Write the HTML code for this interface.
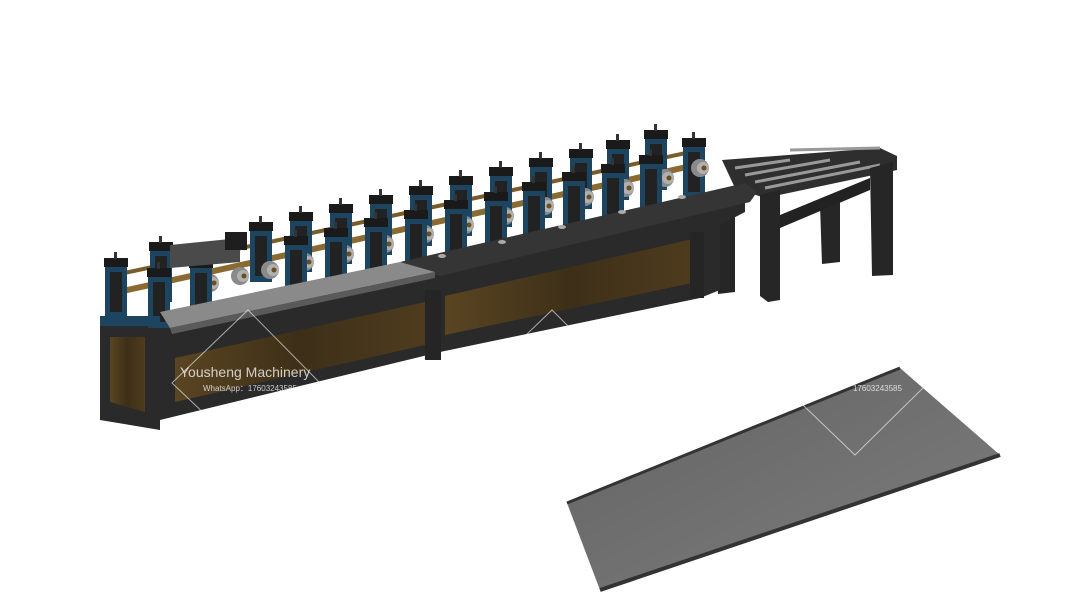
<!DOCTYPE html>
<html><head><style>
html,body{margin:0;padding:0;background:#fff;width:1080px;height:608px;overflow:hidden}
svg{display:block}
.wm{font-family:"Liberation Sans",sans-serif;fill:#fff;opacity:.75}
</style></head><body>
<svg width="1080" height="608" viewBox="0 0 1080 608">
<defs>
<g id="st">
<rect x="0" y="8" width="22" height="52" fill="#1d4560"/>
<rect x="5" y="14" width="12" height="40" fill="#222"/>
<rect x="-1" y="0" width="24" height="9" fill="#1a1a1a"/>
<rect x="9" y="-6" width="3" height="7" fill="#333"/>
</g>
<g id="rl">
<circle cx="0" cy="0" r="9" fill="#8a8a8a"/>
<circle cx="3" cy="0" r="6" fill="#b0b0b0"/>
<circle cx="4" cy="0" r="2.5" fill="#6a5020"/>
</g>
<linearGradient id="br" x1="0" y1="0" x2="1" y2="0">
<stop offset="0" stop-color="#5a4522"/><stop offset=".5" stop-color="#3d2f18"/><stop offset="1" stop-color="#4f3c1e"/>
</linearGradient>
<linearGradient id="sh" x1="0" y1="0" x2="1" y2="1">
<stop offset="0" stop-color="#626262"/><stop offset="1" stop-color="#7e7e7e"/>
</linearGradient>
</defs>

<!-- conveyor -->
<polygon points="722,160 880,148 897,156 897,170 765,198 735,188" fill="#2e2e2e"/>
<g stroke="#999" stroke-width="3">
<line x1="735" y1="168" x2="790" y2="160"/><line x1="745" y1="175" x2="830" y2="160"/>
<line x1="755" y1="182" x2="860" y2="162"/><line x1="765" y1="188" x2="880" y2="165"/>
<line x1="790" y1="150" x2="880" y2="148"/>
</g>
<polygon points="760,195 780,190 780,300 768,302 760,296" fill="#262626"/>
<polygon points="820,205 840,200 840,262 822,264" fill="#262626"/>
<polygon points="870,168 893,162 893,275 872,276" fill="#262626"/>
<polygon points="780,215 870,178 870,190 780,228" fill="#222"/>
<polygon points="715,220 735,216 735,292 718,294" fill="#262626"/>

<!-- base -->
<polygon points="100,320 160,318 745,192 745,212 720,225 720,290 700,298 440,352 160,420 160,430 100,420" fill="#2a2a2a"/>
<polygon points="110,337 145,337 145,412 110,402" fill="url(#br)"/>
<polygon points="175,358 425,302 425,345 175,402" fill="url(#br)"/>
<polygon points="445,296 697,238 697,282 445,335" fill="url(#br)"/>
<rect x="425" y="290" width="16" height="70" fill="#252525"/>
<rect x="690" y="232" width="14" height="66" fill="#252525"/>

<!-- shaft -->
<line x1="118" y1="292" x2="705" y2="163" stroke="#8a6a30" stroke-width="6"/>
<line x1="115" y1="275" x2="700" y2="150" stroke="#7a5c28" stroke-width="4"/>

<!-- back stands -->
<use href="#st" x="150" y="242"/><use href="#st" x="250" y="222"/><use href="#st" x="290" y="212"/>
<use href="#st" x="330" y="204"/><use href="#st" x="370" y="195"/><use href="#st" x="410" y="186"/>
<use href="#st" x="450" y="176"/><use href="#st" x="490" y="167"/><use href="#st" x="530" y="158"/>
<use href="#st" x="570" y="149"/><use href="#st" x="607" y="140"/><use href="#st" x="645" y="130"/>
<use href="#st" x="683" y="138"/>

<!-- rollers -->
<use href="#rl" x="160" y="292"/><use href="#rl" x="210" y="283"/><use href="#rl" x="240" y="276"/>
<use href="#rl" x="270" y="270"/><use href="#rl" x="305" y="262"/><use href="#rl" x="345" y="254"/>
<use href="#rl" x="385" y="244"/><use href="#rl" x="425" y="234"/><use href="#rl" x="465" y="225"/>
<use href="#rl" x="505" y="216"/><use href="#rl" x="545" y="206"/><use href="#rl" x="585" y="197"/>
<use href="#rl" x="625" y="188"/><use href="#rl" x="665" y="178"/><use href="#rl" x="700" y="168"/>

<!-- front stands -->
<use href="#st" x="105" y="258"/><use href="#st" x="148" y="268"/><use href="#st" x="190" y="259"/>
<use href="#st" x="285" y="236"/><use href="#st" x="325" y="228"/><use href="#st" x="365" y="218"/>
<use href="#st" x="405" y="210"/><use href="#st" x="445" y="200"/><use href="#st" x="485" y="192"/>
<use href="#st" x="523" y="182"/><use href="#st" x="563" y="172"/><use href="#st" x="602" y="164"/>
<use href="#st" x="640" y="155"/>
<rect x="100" y="316" width="60" height="10" fill="#1d4560"/>

<!-- guide box -->
<polygon points="170,245 240,238 240,262 170,268" fill="#4a4a4a"/>
<rect x="225" y="232" width="22" height="18" fill="#1e1e1e"/>

<!-- deck -->
<polygon points="400,262 745,183 757,192 750,202 440,276 425,272" fill="#353535"/>
<polygon points="160,312 400,262 435,272 170,328" fill="#8a8a8a"/>
<polygon points="170,328 435,272 435,278 172,334" fill="#5a5a5a"/>
<g fill="#aaa"><ellipse cx="442" cy="256" rx="4" ry="2"/><ellipse cx="502" cy="242" rx="4" ry="2"/><ellipse cx="562" cy="227" rx="4" ry="2"/><ellipse cx="622" cy="212" rx="4" ry="2"/><ellipse cx="682" cy="197" rx="4" ry="2"/></g>

<!-- product sheet -->
<polygon points="567,503 900,368 1000,455 600,590" fill="url(#sh)"/>
<polyline points="567,503 900,368" stroke="#333" stroke-width="3" fill="none"/>
<polyline points="600,590 1000,455" stroke="#333" stroke-width="4" fill="none"/>

<!-- watermarks -->
<g stroke="#fff" stroke-width="1" opacity=".6" fill="none">
<path d="M248,310 L320,383 L248,455 L172,383 Z"/>
<path d="M552,310 L625,383 L552,455 L476,383 Z"/>
<path d="M855,310 L928,383 L855,455 L780,383 Z"/>
</g>
<text class="wm" x="180" y="377" font-size="14">Yousheng Machinery</text>
<text class="wm" x="203" y="391" font-size="8">WhatsApp：17603243585</text>
<text class="wm" x="484" y="377" font-size="14">Yousheng Machinery</text>
<text class="wm" x="507" y="391" font-size="8">WhatsApp：17603243585</text>
<text class="wm" x="853" y="391" font-size="8">17603243585</text>
</svg>
</body></html>
